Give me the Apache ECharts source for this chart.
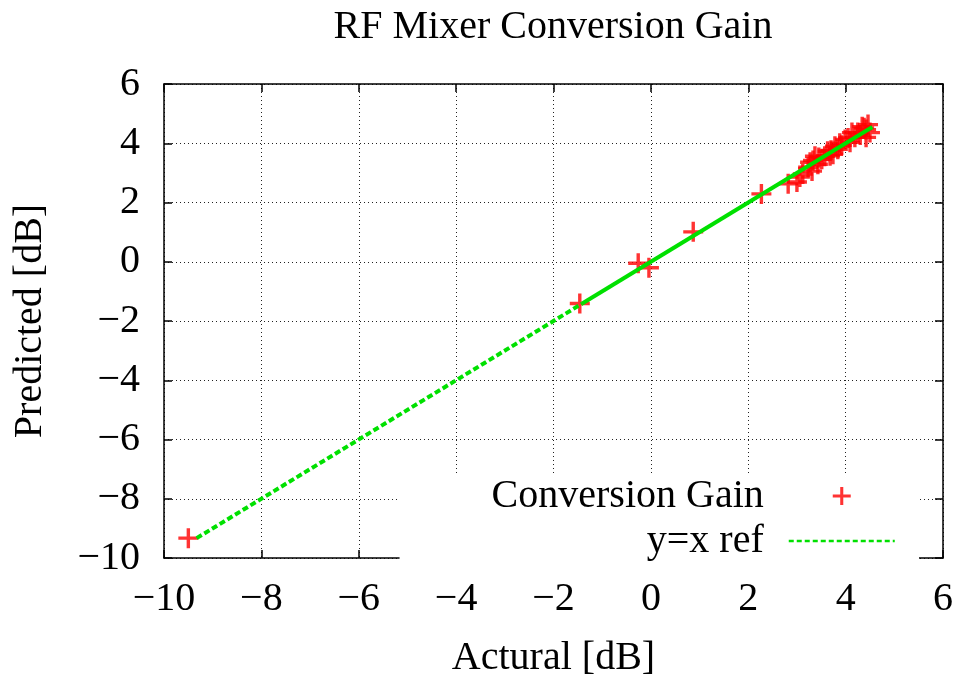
<!DOCTYPE html>
<html>
<head>
<meta charset="utf-8">
<script src="https://cdn.jsdelivr.net/npm/echarts@6/dist/echarts.min.js"></script>
<style>
  html, body { margin: 0; padding: 0; background: #fff; }
  #chart { width: 962px; height: 683px; }
</style>
</head>
<body>
<div id="chart"></div>
<script>
// Measured (actual) vs. model-predicted conversion gain, dB
const actualGain = [
  -9.50, -1.46, -0.26, -0.04, 0.87, 2.27,
  2.82, 3.00, 3.06, 3.12, 3.23, 3.27, 3.31, 3.33, 3.37, 3.43, 3.45, 3.51,
  3.57, 3.63, 3.68, 3.70, 3.74, 3.78, 3.84, 3.88, 3.92, 3.99, 4.05, 4.09,
  4.13, 4.19, 4.25, 4.30, 4.34, 4.38, 4.42, 4.42, 4.46, 4.50
];
const predictedGain = [
  -9.33, -1.41, -0.05, -0.20, 1.01, 2.29,
  2.63, 2.69, 2.86, 2.96, 3.19, 3.36, 3.06, 3.42, 3.56, 3.29, 3.52, 3.46,
  3.56, 3.73, 3.58, 3.76, 3.63, 3.90, 3.80, 4.00, 3.93, 4.13, 4.18, 4.03,
  4.36, 4.20, 4.36, 4.28, 4.56, 4.52, 4.46, 4.20, 4.63, 4.36
];

// Reference diagonal y = x: a sparse dashed stretch and a dense solid stretch
const refDashedX = [-9.33, -1.41];
const refSolidX = [-1.41, 4.55];

// Axis ticks (both axes share the same range)
const xTicks = [-10, -8, -6, -4, -2, 0, 2, 4, 6];
const yTicks = [-10, -8, -6, -4, -2, 0, 2, 4, 6];

const FONT = '"Liberation Serif", "Times New Roman", serif';
const GREEN = '#00e000';
const minus = v => String(v).replace('-', '\u2212');
const plusPath = 'path://M8.3,0H11.7V8.3H20V11.7H11.7V20H8.3V11.7H0V8.3H8.3Z';

const splitStyle = { show: true, lineStyle: { color: '#222', width: 1, type: [1, 3] } };
const lineStyleAxis = { show: true, onZero: false, lineStyle: { color: '#000', width: 1.5 } };
const tickStyle = { show: true, inside: true, length: 8, lineStyle: { color: '#000', width: 1.5 } };

function baseAxis(ticks) {
  return {
    type: 'value',
    min: ticks[0],
    max: ticks[ticks.length - 1],
    interval: ticks[1] - ticks[0],
    axisLine: lineStyleAxis,
    axisTick: tickStyle
  };
}

const chart = echarts.init(document.getElementById('chart'), null, { renderer: 'canvas' });

chart.setOption({
  animation: false,
  backgroundColor: '#fff',
  title: {
    text: 'RF Mixer Conversion Gain',
    left: 548,
    textAlign: 'center',
    top: 2,
    textStyle: { fontFamily: FONT, fontSize: 40, fontWeight: 'normal', color: '#000' }
  },
  grid: { left: 164, right: 19, top: 84, bottom: 120, containLabel: false },
  legend: {
    orient: 'vertical',
    align: 'right',
    right: 43,
    top: 474,
    padding: [2, 23, 2, 92],
    backgroundColor: '#fff',
    itemWidth: 106,
    itemHeight: 18,
    itemGap: 5,
    selectedMode: false,
    textStyle: { fontFamily: FONT, fontSize: 40, color: '#000', lineHeight: 36, padding: [0, 20, 0, 0] },
    data: [
      { name: 'Conversion Gain' },
      {
        name: 'y=x ref',
        itemStyle: { opacity: 0 },
        lineStyle: { width: 2.5, type: [5, 3], color: GREEN }
      }
    ]
  },
  xAxis: [
    Object.assign(baseAxis(xTicks), {
      position: 'bottom',
      axisLabel: { margin: 21, fontFamily: FONT, fontSize: 40, color: '#000', formatter: minus },
      splitLine: splitStyle,
      name: 'Actural [dB]',
      nameLocation: 'middle',
      nameGap: 80,
      nameTextStyle: { fontFamily: FONT, fontSize: 40, color: '#000' }
    }),
    Object.assign(baseAxis(xTicks), {
      position: 'top',
      axisLabel: { show: false },
      splitLine: { show: false }
    })
  ],
  yAxis: [
    Object.assign(baseAxis(yTicks), {
      position: 'left',
      axisLabel: { margin: 24, fontFamily: FONT, fontSize: 40, color: '#000', formatter: minus },
      splitLine: splitStyle,
      name: 'Predicted [dB]',
      nameLocation: 'middle',
      nameGap: 114,
      nameTextStyle: { fontFamily: FONT, fontSize: 40, color: '#000' }
    }),
    Object.assign(baseAxis(yTicks), {
      position: 'right',
      axisLabel: { show: false },
      splitLine: { show: false }
    })
  ],
  series: [
    {
      type: 'scatter',
      name: 'Conversion Gain',
      data: actualGain.map((a, i) => [a, predictedGain[i]]),
      symbol: plusPath,
      symbolSize: 20,
      symbolKeepAspect: true,
      itemStyle: { color: '#ff0000' },
      z: 3
    },
    {
      type: 'line',
      name: 'y=x ref',
      data: refDashedX.map(v => [v, v]),
      symbol: 'none',
      itemStyle: { color: GREEN },
      lineStyle: { color: GREEN, width: 4, type: [6, 3] },
      z: 4
    },
    {
      type: 'line',
      name: 'y=x ref',
      data: refSolidX.map(v => [v, v]),
      symbol: 'none',
      itemStyle: { color: GREEN },
      lineStyle: { color: GREEN, width: 4, type: 'solid' },
      z: 4
    }
  ]
});
</script>
</body>
</html>
